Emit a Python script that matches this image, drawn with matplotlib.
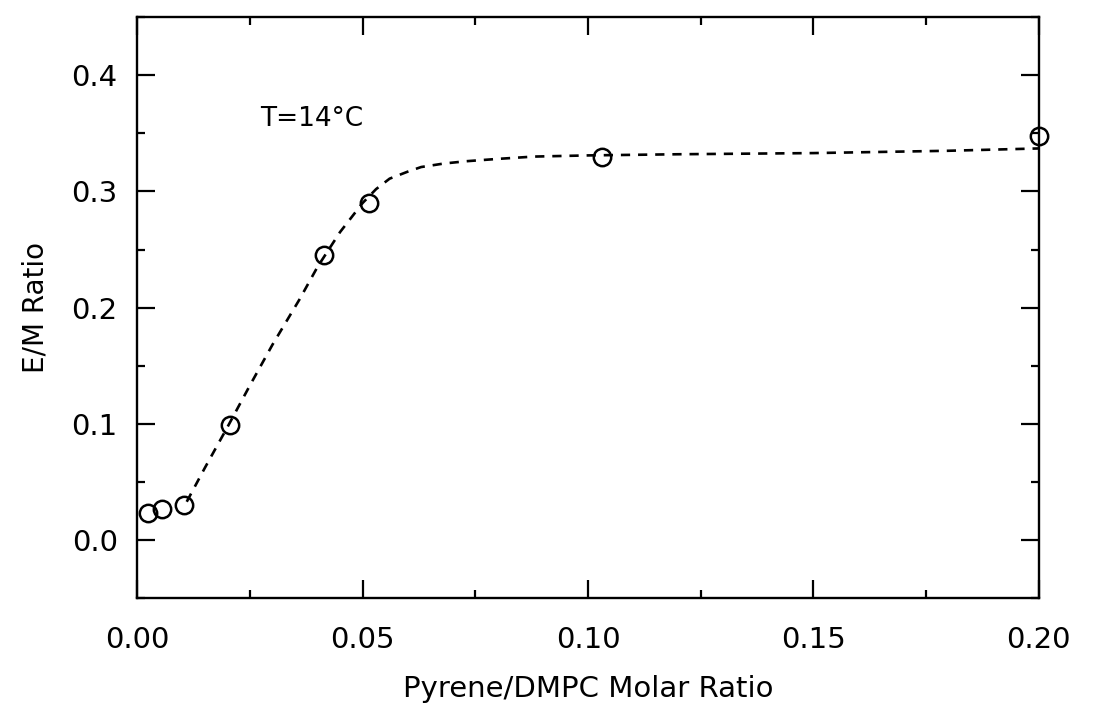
import matplotlib
matplotlib.use("Agg")
from matplotlib import pyplot as plt
from matplotlib.ticker import MultipleLocator

# measured points (open circles)
ratio = [0.0025, 0.0055, 0.0105, 0.0205, 0.0415, 0.0515, 0.103, 0.2]
em = [0.023, 0.027, 0.030, 0.099, 0.245, 0.290, 0.330, 0.348]

# dashed guide curve
fit_x = [0.011, 0.015, 0.020, 0.025, 0.030, 0.036, 0.040, 0.045, 0.050,
         0.053, 0.056, 0.060, 0.063, 0.068, 0.073, 0.080, 0.088, 0.100,
         0.120, 0.150, 0.180, 0.200]
fit_y = [0.033, 0.062, 0.097, 0.133, 0.168, 0.207, 0.235, 0.265, 0.290,
         0.302, 0.311, 0.317, 0.321, 0.324, 0.326, 0.328, 0.330, 0.331,
         0.332, 0.333, 0.335, 0.337]

fig = plt.figure(figsize=(10.97, 7.13), dpi=100)
ax = fig.add_axes([0.125, 0.161, 0.822, 0.815])

ax.plot(fit_x, fit_y, color='black', lw=1.9, dashes=(3.5, 3))
ax.plot(ratio, em, 'o', ms=12.5, mfc='none', mec='black', mew=1.8, clip_on=False)

ax.text(0.0272, 0.362, "T=14°C", fontsize=19, ha='left', va='center')

ax.set_xlim(0, 0.2)
ax.set_ylim(-0.05, 0.45)
ax.xaxis.set_minor_locator(MultipleLocator(0.025))
ax.yaxis.set_minor_locator(MultipleLocator(0.05))
ax.set_xticks([0, 0.05, 0.10, 0.15, 0.20])
ax.set_xticklabels(["0.00", "0.05", "0.10", "0.15", "0.20"])
ax.set_yticks([0.0, 0.1, 0.2, 0.3, 0.4])
ax.set_yticklabels(["0.0", "0.1", "0.2", "0.3", "0.4"])

ax.tick_params(which='both', direction='in', top=True, right=True, width=1.6)
ax.tick_params(which='major', length=13, labelsize=21)
ax.tick_params(axis='x', which='major', pad=20)
ax.tick_params(axis='y', which='major', pad=14)
ax.tick_params(which='minor', length=6)
for s in ax.spines.values():
    s.set_linewidth(1.7)

ax.set_xlabel("Pyrene/DMPC Molar Ratio", fontsize=21, labelpad=15)
ax.set_ylabel("E/M Ratio", fontsize=20, labelpad=16)

fig.savefig("out.png", dpi=100)
